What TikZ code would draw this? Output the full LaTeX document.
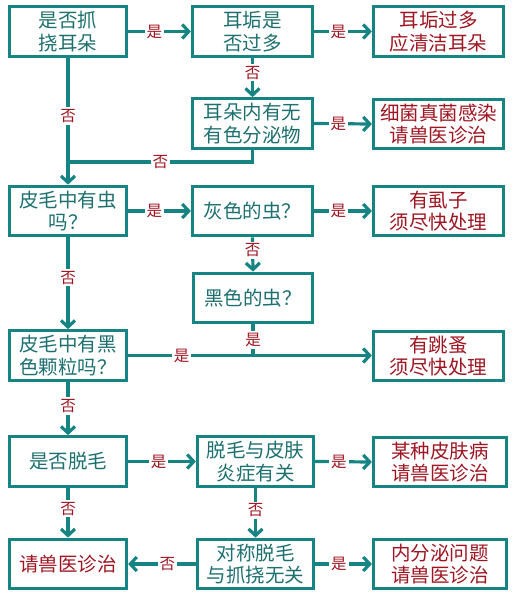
\documentclass[tikz,border=0pt]{standalone}
\usepackage{fontspec}
\setmainfont{Noto Sans CJK SC}
\usetikzlibrary{arrows.meta}
\definecolor{tealline}{HTML}{178484}
\definecolor{tealtxt}{HTML}{1D7070}
\definecolor{redtxt}{HTML}{9E1622}
\begin{document}
\begin{tikzpicture}[x=1pt,y=-1pt,
  box/.style={draw=tealline, line width=3.2pt, fill=white, align=center, inner sep=0pt,
    font=\fontsize{19.5}{22.5}\selectfont, minimum height=49.5pt},
  qbox/.style={box, text=tealtxt},
  rbox/.style={box, text=redtxt},
  conn/.style={draw=tealline, line width=3.2pt},
  arr/.style={conn, -{Straight Barb[length=6.5pt,width=14pt]}},
  lab/.style={fill=white, text=redtxt, font=\fontsize{15.5}{16}\selectfont, inner sep=2pt}]
\useasboundingbox (0,0) rectangle (512,596);
% row 1
\node[qbox, minimum width=117pt] (q1) at (68,31.5) {是否抓\\挠耳朵};
\node[qbox, minimum width=120pt] (q2) at (252.5,31.5) {耳垢是\\否过多};
\node[rbox, minimum width=130pt] (r1) at (438.5,31.5) {耳垢过多\\应清洁耳朵};
% row 2
\node[qbox, minimum width=120pt] (q3) at (252.5,123.5) {耳朵内有无\\有色分泌物};
\node[rbox, minimum width=130pt] (r2) at (438.5,124) {细菌真菌感染\\请兽医诊治};
% row 3
\node[qbox, minimum width=117pt] (q4) at (68,211) {皮毛中有虫\\吗？};
\node[qbox, minimum width=120pt] (q5) at (252.5,211) {灰色的虫？};
\node[rbox, minimum width=130pt] (r3) at (438.5,211) {有虱子\\须尽快处理};
% row 4
\node[qbox, minimum width=119pt] (q6) at (253,298) {黑色的虫？};
% row 5
\node[qbox, minimum width=117pt] (q7) at (68,355.5) {皮毛中有黑\\色颗粒吗？};
\node[rbox, minimum width=130pt] (r4) at (438.5,356) {有跳蚤\\须尽快处理};
% row 6
\node[qbox, minimum width=117pt] (q8) at (68,461.5) {是否脱毛};
\node[qbox, minimum width=116pt] (q9) at (255.5,461.5) {脱毛与皮肤\\炎症有关};
\node[rbox, minimum width=133pt] (r5) at (440,462) {某种皮肤病\\请兽医诊治};
% row 7
\node[rbox, minimum width=117pt] (r6) at (68,564) {请兽医诊治};
\node[qbox, minimum width=116pt] (q10) at (255.5,564) {对称脱毛\\与抓挠无关};
\node[rbox, minimum width=133pt] (r7) at (440,564) {内分泌问题\\请兽医诊治};
\coordinate (j1) at (68,162);
\coordinate (j2) at (253,356);
% connectors
\draw[arr] (q1.east) -- node[lab, pos=0.42] (l1) {是} (q2.west);
\draw[arr] (q2.east) -- node[lab, pos=0.42] (l2) {是} (r1.west);
\draw[arr] (q2.south) -- node[lab, pos=0.38] (l3) {否} (q3.north);
\draw[arr] (q3.east) -- node[lab, pos=0.42] (l4) {是} (r2.west);
\draw[arr] (q1.south) -- node[lab, pos=0.46] (l5) {否} (q4.north);
\draw[conn] (q3.south) -- (q3.south |- j1) -- node[lab, pos=0.5] (l6) {否} (j1);
\draw[arr] (q4.east) -- node[lab, pos=0.42] (l7) {是} (q5.west);
\draw[arr] (q5.east) -- node[lab, pos=0.42] (l8) {是} (r3.west);
\draw[arr] (q5.south) -- node[lab, pos=0.38] (l9) {否} (q6.north);
\draw[arr] (q4.south) -- node[lab, pos=0.44] (l10) {否} (q7.north);
\draw[arr] (q7.east) -- node[lab, pos=0.22] (l11) {是} (q7.east -| r4.west);
\draw[conn] (q6.south) -- node[lab, pos=0.5] (l12) {是} (j2);
\draw[arr] (q7.south) -- node[lab, pos=0.45] (l13) {否} (q8.north);
\draw[arr] (q8.east) -- node[lab, pos=0.45] (l14) {是} (q9.west);
\draw[arr] (q9.east) -- node[lab, pos=0.42] (l15) {是} (r5.west);
\draw[arr] (q9.south) -- node[lab, pos=0.45] (l16) {否} (q10.north);
\draw[arr] (q8.south) -- node[lab, pos=0.42] (l17) {否} (r6.north);
\draw[arr] (q10.east) -- node[lab, pos=0.42] (l18) {是} (r7.west);
\draw[arr] (q10.west) -- node[lab, pos=0.42] (l19) {否} (r6.east);
\end{tikzpicture}
\end{document}
